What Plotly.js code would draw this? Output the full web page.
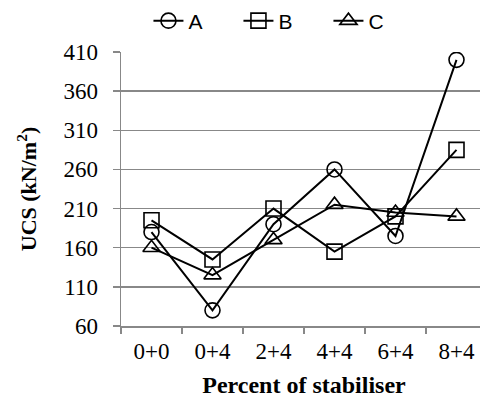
<!DOCTYPE html>
<html><head><meta charset="utf-8">
<script src="https://cdn.plot.ly/plotly-3.0.1.min.js"></script>
<style>html,body{margin:0;padding:0;overflow:hidden;background:#fff;width:480px;height:398px}</style>
</head><body>
<div id="chart" style="width:490px;height:398px"></div>
<script>
const categories = ["0+0","0+4","2+4","4+4","6+4","8+4"];
const seriesA = [180, 80, 190, 260, 175, 400];
const seriesB = [195, 145, 210, 155, 200, 285];
const seriesC = [160, 125, 170, 215, 205, 200];
const yTicks = [60,110,160,210,260,310,360,410];

const mk = (name, y, sym) => ({
  type:'scatter', mode:'lines+markers', name:name, x:categories, y:y,
  line:{color:'#000', width:2},
  marker:{symbol:sym, size:15, color:'#000', line:{color:'#000', width:1.6}}
});
const data = [mk('A', seriesA, 'circle-open'), mk('B', seriesB, 'square-open'), mk('C', seriesC, 'triangle-up-open')];
const layout = {
  width:490, height:398,
  margin:{l:121, r:3, t:52, b:72, autoexpand:false},
  paper_bgcolor:'#fff', plot_bgcolor:'#fff',
  showlegend:true,
  legend:{orientation:'h', x:0.075, xanchor:'left', xref:'paper', y:1+31/274, yanchor:'middle', yref:'paper',
    font:{family:'Liberation Sans, Arial', size:21, color:'#000'}, entrywidth:45, entrywidthmode:'pixels', itemwidth:30},
  xaxis:{type:'category', range:[-0.5,5.5], tickson:'boundaries', ticks:'outside', ticklen:6, tickcolor:'#888', tickwidth:1.5,
    showline:true, linecolor:'#888', linewidth:1.5, showgrid:false,
    tickfont:{family:'Liberation Serif, Times New Roman', size:23, color:'#000'}, ticklabelstandoff:4,
    title:{text:'<b>Percent of stabiliser</b>', standoff:13, font:{family:'Liberation Serif, Times New Roman', size:24, color:'#000'}}},
  yaxis:{range:[60,410], tickvals:yTicks, ticks:'outside', ticklen:7, tickcolor:'#888', tickwidth:1.5,
    showline:true, linecolor:'#888', linewidth:1.5, showgrid:true, gridcolor:'#888', gridwidth:1.3, zeroline:false,
    tickfont:{family:'Liberation Serif, Times New Roman', size:23, color:'#000'}, ticklabelstandoff:10,
    title:{text:'<b>UCS (kN/m<sup>2</sup>)</b>', standoff:20, font:{family:'Liberation Serif, Times New Roman', size:22, color:'#000'}}}
};
Plotly.newPlot('chart', data, layout, {displayModeBar:false, staticPlot:true});
</script>
</body></html>
